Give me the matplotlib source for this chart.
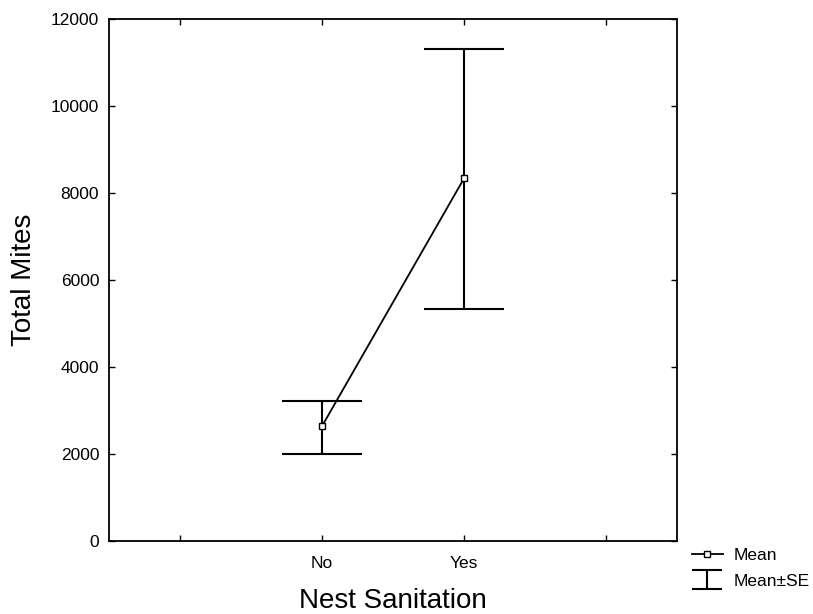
import numpy as np
import matplotlib
matplotlib.use("Agg")
import matplotlib.pyplot as plt
from matplotlib.lines import Line2D
from matplotlib.legend_handler import HandlerErrorbar

plt.rcParams['font.family'] = ['Liberation Sans', 'DejaVu Sans']

# data
groups = ["No", "Yes"]
means = [2640, 8340]
upper = [3220, 11300]
lower = [2000, 5330]
tick_labels = ["", "No", "Yes", ""]

pos = np.arange(2, 2 + len(groups))
err = [np.array(means) - np.array(lower), np.array(upper) - np.array(means)]

fig = plt.figure(figsize=(8.13, 6.14), dpi=100)
ax = fig.add_axes([0.134, 0.119, 0.699, 0.850])

ax.errorbar(pos, means, yerr=err, fmt='none', ecolor='black',
            elinewidth=1.5, capsize=28.5, capthick=1.5)
ax.plot(pos, means, color='black', lw=1.3, marker='s', ms=5,
        mfc='white', mec='black', mew=1, zorder=3)

ax.set_xlim(0.5, 4.5)
ax.set_ylim(0, 12000)
ax.set_xticks(np.arange(1, 5))
ax.set_xticklabels(tick_labels)
ax.set_yticks(np.arange(0, 12001, 2000))
ax.tick_params(direction='in', length=4, width=1, top=True, right=True,
               labelsize=12.5, pad=7)
ax.tick_params(axis='x', pad=11)
for s in ax.spines.values():
    s.set_linewidth(1.3)

ax.set_xlabel("Nest Sanitation", fontsize=20, labelpad=12)
ax.set_ylabel("Total Mites", fontsize=20, labelpad=10)

# legend handles
mean_h = Line2D([], [], color='black', lw=1.3, marker='s', ms=5,
                mfc='white', mec='black', mew=1)
se_h = ax.errorbar([np.nan], [np.nan], yerr=[1], fmt='none', ecolor='black',
                   elinewidth=1.5, capsize=11, capthick=1.5)
fig.legend([mean_h, se_h], ["Mean", "Mean±SE"], loc='upper left',
           bbox_to_anchor=(0.851, 0.107), frameon=False, fontsize=12.5,
           handlelength=1.8, handletextpad=0.6, labelspacing=0.6,
           borderpad=0, borderaxespad=0,
           handler_map={type(se_h): HandlerErrorbar(yerr_size=0.55)})

fig.savefig("out.png", dpi=100)
